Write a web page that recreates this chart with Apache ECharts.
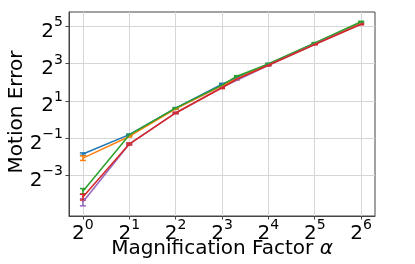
<!DOCTYPE html>
<html>
<head>
<meta charset="utf-8">
<script src="https://cdn.jsdelivr.net/npm/echarts@6/dist/echarts.min.js"></script>
<style>
html,body{margin:0;padding:0;background:#fff;}
#chart{width:415px;height:264px;}
</style>
</head>
<body>
<div id="chart"></div>
<script>
// Magnification factors (x)
const xsA = [1, 2, 4, 8, 16, 32, 64];
const xsB = [1, 2, 4, 8, 10, 16, 32, 64];
// Tick values
const xTicks = [1, 2, 4, 8, 16, 32, 64];
const yTicks = [0.125, 0.5, 2, 8, 32];
// Axis titles
const xTitle = 'Magnification Factor ';
const xTitleSym = '\u03b1';
const yTitle = 'Motion Error';
// Series values (motion error) and error bar half-widths
const blueY = [0.275, 0.567, 1.52, 3.71, 7.9, 17.0, 37.0];
const blueErr = [0.012, 0.012, 0.03, 0.12, 0.15, 0.2, 0.5];
const orangeY = [0.237, 0.53, 1.48, 3.5, 7.8, 16.8, 36.5];
const orangeErr = [0.02, 0.012, 0.03, 0.1, 0.15, 0.2, 0.5];
const greenY = [0.069, 0.56, 1.52, 3.58, 5.0, 7.9, 17.3, 38.0];
const greenErr = [0.007, 0.012, 0.03, 0.08, 0.1, 0.15, 0.2, 0.6];
const purpleY = [0.046, 0.40, 1.27, 3.3, 7.5, 16.4, 35.0];
const purpleErr = [0.006, 0.012, 0.03, 0.08, 0.15, 0.2, 0.5];
const redY = [0.0556, 0.40, 1.27, 3.25, 4.47, 7.5, 16.3, 34.5];
const redErr = [0.006, 0.015, 0.03, 0.1, 0.1, 0.15, 0.2, 0.6];

const seriesDefs = [
  {name: 'blue', color: '#1f77b4', xs: xsA, ys: blueY, err: blueErr},
  {name: 'orange', color: '#ff7f0e', xs: xsA, ys: orangeY, err: orangeErr},
  {name: 'green', color: '#2ca02c', xs: xsB, ys: greenY, err: greenErr},
  {name: 'purple', color: '#9467bd', xs: xsA, ys: purpleY, err: purpleErr},
  {name: 'red', color: '#d62728', xs: xsB, ys: redY, err: redErr}
];

const FONT = 'DejaVu Sans';
const rich = {
  b: {fontSize: 20, fontFamily: FONT, color: '#000', verticalAlign: 'bottom', lineHeight: 26},
  s: {fontSize: 14, fontFamily: FONT, color: '#000', verticalAlign: 'top', lineHeight: 13}
};
function powLabel(v) {
  const e = Math.round(Math.log2(v));
  const es = e < 0 ? '\u2212' + (-e) : String(e);
  return '{b|2}{s|' + es + '}';
}

const series = [];
seriesDefs.forEach(d => {
  series.push({
    type: 'line', name: d.name, data: d.xs.map((x, i) => [x, d.ys[i]]),
    showSymbol: false, symbol: 'none', lineStyle: {color: d.color, width: 1.5},
    itemStyle: {color: d.color}, animation: false, silent: true
  });
  series.push({
    type: 'custom', name: d.name + '_err',
    data: d.xs.map((x, i) => [x, d.ys[i] - d.err[i], d.ys[i] + d.err[i]]),
    encode: {x: 0, y: [1, 2]}, animation: false, silent: true,
    renderItem: function (params, api) {
      const x = api.value(0);
      const lo = api.coord([x, api.value(1)]);
      const hi = api.coord([x, api.value(2)]);
      const w = 3;
      const st = {stroke: d.color, lineWidth: 1.5, fill: null};
      return {
        type: 'group', children: [
          {type: 'line', shape: {x1: lo[0], y1: lo[1], x2: hi[0], y2: hi[1]}, style: st},
          {type: 'line', shape: {x1: lo[0] - w, y1: lo[1], x2: lo[0] + w, y2: lo[1]}, style: st},
          {type: 'line', shape: {x1: hi[0] - w, y1: hi[1], x2: hi[0] + w, y2: hi[1]}, style: st}
        ]
      };
    }
  });
});

const chart = echarts.init(document.getElementById('chart'), null, {renderer: 'canvas'});
chart.setOption({
  animation: false,
  backgroundColor: '#fff',
  grid: {left: 69, right: 40, top: 12, bottom: 48, containLabel: false, outerBoundsMode: 'none',
         show: true, borderColor: '#444', borderWidth: 1, backgroundColor: 'transparent'},
  graphic: [
    {type: 'text', x: 222, y: 249, silent: true,
     style: {text: '{n|' + xTitle + '}{a|' + xTitleSym + '}', align: 'center', verticalAlign: 'middle',
       rich: {
         n: {fontSize: 20, fontFamily: FONT, fill: '#000', color: '#000'},
         a: {fontSize: 20, fontFamily: FONT, fontStyle: 'italic', fill: '#000', color: '#000'}
       }}},
    {type: 'text', x: 17, y: 112, rotation: Math.PI / 2, silent: true,
     style: {text: yTitle, align: 'center', verticalAlign: 'middle', fontSize: 20, fontFamily: FONT, fill: '#000'}}
  ],
  xAxis: {
    type: 'log', logBase: 2, min: Math.pow(2, -0.3), max: Math.pow(2, 6.3),
    axisLine: {show: true, lineStyle: {color: '#444', width: 1}},
    axisTick: {show: true, length: 3.5, inside: false, customValues: xTicks, lineStyle: {color: '#444', width: 1}},
    axisLabel: {customValues: xTicks, margin: 2, formatter: powLabel, rich: rich},
    splitLine: {show: true, lineStyle: {color: '#d6d6d6', width: 1}},
    minorTick: {show: false}, minorSplitLine: {show: false}
  },
  yAxis: {
    type: 'log', logBase: 2, min: Math.pow(2, -5.19), max: Math.pow(2, 5.77),
    axisLine: {show: true, lineStyle: {color: '#444', width: 1}},
    axisTick: {show: true, length: 3.5, inside: false, customValues: yTicks, lineStyle: {color: '#444', width: 1}},
    axisLabel: {customValues: yTicks, margin: 6, formatter: powLabel, rich: rich, padding: [5, 0, 0, 0]},
    splitLine: {show: true, lineStyle: {color: '#d6d6d6', width: 1}},
    minorTick: {show: false}, minorSplitLine: {show: false}
  },
  series: series
});
</script>
</body>
</html>
